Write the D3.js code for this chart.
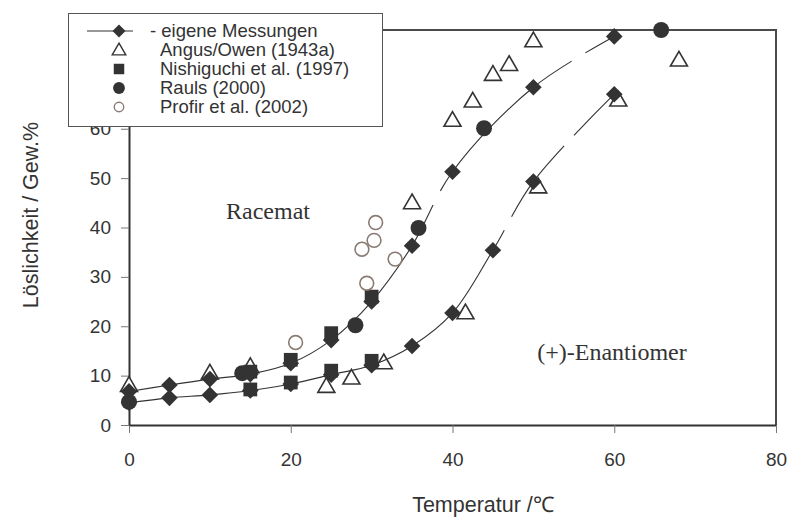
<!DOCTYPE html>
<html><head><meta charset="utf-8">
<script src="https://cdnjs.cloudflare.com/ajax/libs/d3/7.8.5/d3.min.js"></script>
<style>
html,body{margin:0;padding:0;background:#fff;}
svg{display:block;}
</style></head>
<body>
<svg id="chart" width="791" height="526"></svg>
<script>
// ---------- data ----------
const xTicks = [0, 20, 40, 60, 80];
const yTicks = [0, 10, 20, 30, 40, 50, 60, 70, 80];
const legendLabels = ["- eigene Messungen", "Angus/Owen (1943a)", "Nishiguchi et al. (1997)", "Rauls (2000)", "Profir et al. (2002)"];

// eigene Messungen – Racemat
const ownRacT = [0, 5, 10, 15, 20, 25, 30, 35, 40, 50, 60];
const ownRacS = [6.8, 8.1, 9.3, 10.3, 12.5, 17.2, 25.0, 36.3, 51.3, 68.4, 78.7];
// eigene Messungen – (+)-Enantiomer
const ownEnT = [0, 5, 10, 15, 20, 25, 30, 35, 40, 45, 50, 60];
const ownEnS = [4.5, 5.5, 6.1, 7.0, 8.3, 10.2, 12.1, 16.0, 22.7, 35.4, 49.3, 67.0];

const angusT = [0, 10, 15, 35, 40, 42.5, 45, 47, 50, 68, 24.4, 27.5, 31.5, 41.6, 50.6, 60.5];
const angusS = [8.0, 10.5, 11.8, 45.0, 61.7, 65.6, 71.0, 73.0, 77.8, 73.9, 7.8, 9.5, 12.6, 22.7, 48.2, 65.8];

const nishT = [15, 15, 20, 20, 25, 25, 30, 30];
const nishS = [10.8, 7.2, 13.2, 8.6, 18.6, 11.0, 26.0, 13.0];

const raulsT = [0, 14, 28, 35.8, 43.9, 65.8];
const raulsS = [4.7, 10.5, 20.2, 39.9, 60.1, 80.0];

const profirT = [20.6, 28.8, 29.4, 30.3, 30.5, 32.9];
const profirS = [16.7, 35.6, 28.7, 37.4, 41.0, 33.6];

// gaps of the dashed fit curves (temperature ranges)
const racGaps = [[37.6, 38.5], [54.7, 56.4]];
const enGaps = [[46.4, 47.3], [53.8, 55.0]];

// ---------- layout ----------
const svg = d3.select("#chart");
const x = d3.scaleLinear().domain([0, 80]).range([129, 776]);
const y = d3.scaleLinear().domain([0, 80]).range([425, 30]);
const dark = "#333333";
const sans = "'Liberation Sans', Arial, Helvetica, sans-serif";
const serif = "'Liberation Serif', 'Times New Roman', serif";

// plot frame (top & right)
svg.append("path")
  .attr("d", `M${x(0)},${y(80)}H${x(80)}V${y(0)}`)
  .attr("fill", "none").attr("stroke", "#4a4a4a").attr("stroke-width", 2);

// axes
const xAxis = svg.append("g").attr("transform", `translate(0,${y(0)})`)
  .call(d3.axisBottom(x).tickValues(xTicks).tickSize(8).tickSizeOuter(0).tickPadding(20).tickFormat(d3.format("d")));
const yAxis = svg.append("g").attr("transform", `translate(${x(0)},0)`)
  .call(d3.axisLeft(y).tickValues(yTicks).tickSize(8).tickSizeOuter(0).tickPadding(10).tickFormat(d3.format("d")));
[xAxis, yAxis].forEach(a => {
  a.select(".domain").attr("stroke", dark).attr("stroke-width", 2);
  a.selectAll(".tick line").attr("stroke", "#777").attr("stroke-width", 1);
  a.selectAll(".tick text").attr("fill", "#333").style("font-family", sans).style("font-size", "19px");
});

// axis titles
svg.append("text").attr("x", 483).attr("y", 512).attr("text-anchor", "middle")
  .style("font-family", sans).style("font-size", "21.5px").attr("fill", "#333")
  .text("Temperatur /℃");
svg.append("text").attr("transform", "translate(38,215) rotate(-90)").attr("text-anchor", "middle")
  .style("font-family", sans).style("font-size", "21.5px").attr("fill", "#333")
  .text("Löslichkeit / Gew.%");

// annotations
svg.append("text").attr("x", 268).attr("y", 219).attr("text-anchor", "middle")
  .style("font-family", serif).style("font-size", "24px").attr("fill", "#333").text("Racemat");
svg.append("text").attr("x", 612).attr("y", 360).attr("text-anchor", "middle")
  .style("font-family", serif).style("font-size", "24px").attr("fill", "#333").text("(+)-Enantiomer");

// symbol helpers
const diamondPath = r => `M0,${-r}L${r},0L0,${r}L${-r},0Z`;
const diamond = diamondPath(8.3);
const triangle = d3.symbol().type(d3.symbolTriangle).size(125)();
const square = d3.symbol().type(d3.symbolSquare).size(190)();
const circle = d3.symbol().type(d3.symbolCircle).size(200)();
const ocircle = d3.symbol().type(d3.symbolCircle).size(150)();

function zip(a, b) { return a.map((v, i) => [v, b[i]]); }

// Angus (open triangles) – drawn below
svg.append("g").selectAll("path").data(zip(angusT, angusS)).join("path")
  .attr("transform", d => `translate(${x(d[0])},${y(d[1]) + 1})`)
  .attr("d", triangle).attr("fill", "#fff").attr("stroke", dark).attr("stroke-width", 1.6);

// fitted curves
const line = d3.line().x(d => x(d[0])).y(d => y(d[1])).curve(d3.curveCatmullRom.alpha(0.5));
function drawCurve(T, S, gaps) {
  const p = svg.append("path").attr("d", line(zip(T, S)))
    .attr("fill", "none").attr("stroke", "#333").attr("stroke-width", 1.1);
  const node = p.node();
  const total = node.getTotalLength();
  function lenAt(tx) {
    const px = x(tx);
    let lo = 0, hi = total;
    for (let i = 0; i < 40; i++) {
      const mid = (lo + hi) / 2;
      if (node.getPointAtLength(mid).x < px) lo = mid; else hi = mid;
    }
    return (lo + hi) / 2;
  }
  const arr = [];
  let pos = 0;
  gaps.forEach(g => {
    const a = lenAt(g[0]), b = lenAt(g[1]);
    arr.push(a - pos, b - a);
    pos = b;
  });
  arr.push(total - pos + 10, 0);
  p.attr("stroke-dasharray", arr.join(","));
}
drawCurve(ownRacT, ownRacS, racGaps);
drawCurve(ownEnT, ownEnS, enGaps);

// own diamonds
svg.append("g").selectAll("path").data(zip(ownRacT, ownRacS).concat(zip(ownEnT, ownEnS))).join("path")
  .attr("transform", d => `translate(${x(d[0])},${y(d[1])})`)
  .attr("d", diamond).attr("fill", dark);

// Nishiguchi squares
svg.append("g").selectAll("path").data(zip(nishT, nishS)).join("path")
  .attr("transform", d => `translate(${x(d[0])},${y(d[1])})`)
  .attr("d", square).attr("fill", dark);

// Rauls circles
svg.append("g").selectAll("path").data(zip(raulsT, raulsS)).join("path")
  .attr("transform", d => `translate(${x(d[0])},${y(d[1])})`)
  .attr("d", circle).attr("fill", dark);

// Profir open circles
svg.append("g").selectAll("path").data(zip(profirT, profirS)).join("path")
  .attr("transform", d => `translate(${x(d[0])},${y(d[1])})`)
  .attr("d", ocircle).attr("fill", "none").attr("stroke", "#8a7a74").attr("stroke-width", 1.6);

// legend
const lg = svg.append("g");
lg.append("rect").attr("x", 68.5).attr("y", 13.5).attr("width", 314).attr("height", 113)
  .attr("fill", "#fff").attr("stroke", "#555").attr("stroke-width", 1);
const rowY = [31, 50, 69, 88, 107];
lg.append("line").attr("x1", 87).attr("x2", 133).attr("y1", rowY[0]).attr("y2", rowY[0])
  .attr("stroke", "#333").attr("stroke-width", 1.1);
const legSyms = [
  {d: diamondPath(6.5), fill: dark, stroke: "none"},
  {d: d3.symbol().type(d3.symbolTriangle).size(80)(), fill: "#fff", stroke: dark},
  {d: d3.symbol().type(d3.symbolSquare).size(110)(), fill: dark, stroke: "none"},
  {d: d3.symbol().type(d3.symbolCircle).size(110)(), fill: dark, stroke: "none"},
  {d: d3.symbol().type(d3.symbolCircle).size(70)(), fill: "none", stroke: "#8a7a74"}
];
legendLabels.forEach((t, i) => {
  lg.append("path").attr("transform", `translate(119,${rowY[i] + (i === 1 ? 1 : 0)})`)
    .attr("d", legSyms[i].d).attr("fill", legSyms[i].fill)
    .attr("stroke", legSyms[i].stroke).attr("stroke-width", 1.4);
  lg.append("text").attr("x", i === 0 ? 150 : 160).attr("y", rowY[i]).attr("dy", "0.35em")
    .style("font-family", sans).style("font-size", "18.5px").attr("fill", "#333").text(t);
});
</script>
</body></html>
